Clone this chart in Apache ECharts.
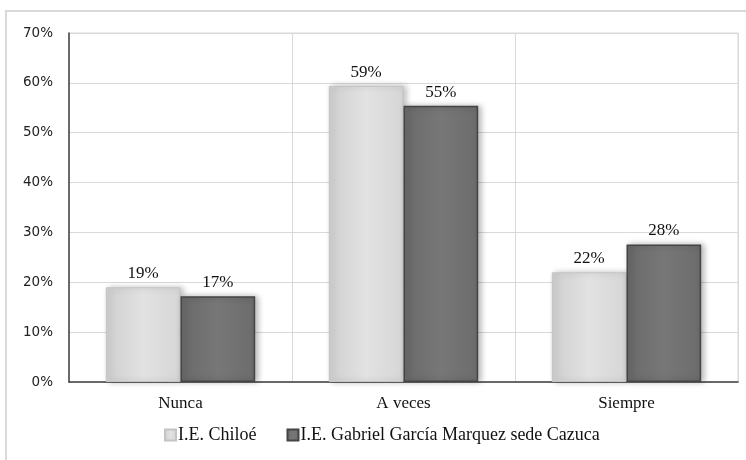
<!DOCTYPE html>
<html><head><meta charset="utf-8">
<script src="https://cdn.jsdelivr.net/npm/echarts@6/dist/echarts.min.js"></script>
<style>html,body{margin:0;padding:0;background:#fff}#c{width:746px;height:460px}</style>
</head><body><div id="c"></div>
<script>
const categories = ['Nunca', 'A veces', 'Siempre'];
const seriesNames = ['I.E. Chiloé', 'I.E. Gabriel García Marquez sede Cazuca'];
const chiloe = [0.19, 0.594, 0.22];
const cazuca = [0.172, 0.554, 0.276];
const yTicks = [0, 0.1, 0.2, 0.3, 0.4, 0.5, 0.6, 0.7];

const chart = echarts.init(document.getElementById('c'), null, {renderer: 'canvas'});
const serif = 'Liberation Serif';
function lg(c1, c2, c3) {
  return new echarts.graphic.LinearGradient(0, 0, 1, 0, [
    {offset: 0, color: c1}, {offset: 0.5, color: c2}, {offset: 1, color: c3}]);
}
const labelCfg = {show: true, position: 'top', distance: 5, color: '#111', fontFamily: serif, fontSize: 17,
  formatter: p => Math.round(p.value * 100) + '%'};
chart.setOption({
  animation: false,
  graphic: [{type: 'rect', shape: {x: 6, y: 11, width: 800, height: 600},
    style: {fill: 'none', stroke: '#d9d9d9', lineWidth: 2}, silent: true}],
  grid: {left: 69, right: 8, top: 33, bottom: 78, show: true, borderColor: '#d9d9d9', borderWidth: 1},
  legend: {
    data: seriesNames, bottom: 11, left: 159, itemWidth: 11, itemHeight: 11, itemGap: 30, icon: 'rect',
    textStyle: {fontFamily: serif, fontSize: 18, color: '#111', padding: [0, 0, 0, -3]}
  },
  xAxis: {
    type: 'category', data: categories,
    axisLine: {lineStyle: {color: '#404040', width: 1.5}},
    axisTick: {show: false},
    splitLine: {show: true, lineStyle: {color: '#d9d9d9'}},
    axisLabel: {fontFamily: serif, fontSize: 17, color: '#111', margin: 13}
  },
  yAxis: {
    type: 'value', min: 0, max: 0.7, interval: 0.1,
    axisLine: {show: true, lineStyle: {color: '#404040', width: 1.5}},
    axisTick: {show: false},
    splitLine: {lineStyle: {color: '#d9d9d9'}},
    axisLabel: {fontFamily: 'DejaVu Sans', fontSize: 13.5, color: '#222', margin: 16,
      formatter: v => Math.round(v * 100) + '%'}
  },
  series: [
    {name: seriesNames[0], type: 'bar', data: chiloe, barGap: '0%', barCategoryGap: '33%',
      itemStyle: {color: lg('#cfcfcf', '#e2e2e2', '#d6d6d6'), borderColor: '#c4c4c4', borderWidth: 1,
        shadowColor: 'rgba(0,0,0,0.25)', shadowBlur: 6, shadowOffsetX: 3},
      label: labelCfg},
    {name: seriesNames[1], type: 'bar', data: cazuca,
      itemStyle: {color: lg('#6a6a6a', '#777777', '#6c6c6c'), borderColor: '#444', borderWidth: 1.5,
        shadowColor: 'rgba(0,0,0,0.3)', shadowBlur: 6, shadowOffsetX: 3},
      label: labelCfg}
  ]
});
</script></body></html>
